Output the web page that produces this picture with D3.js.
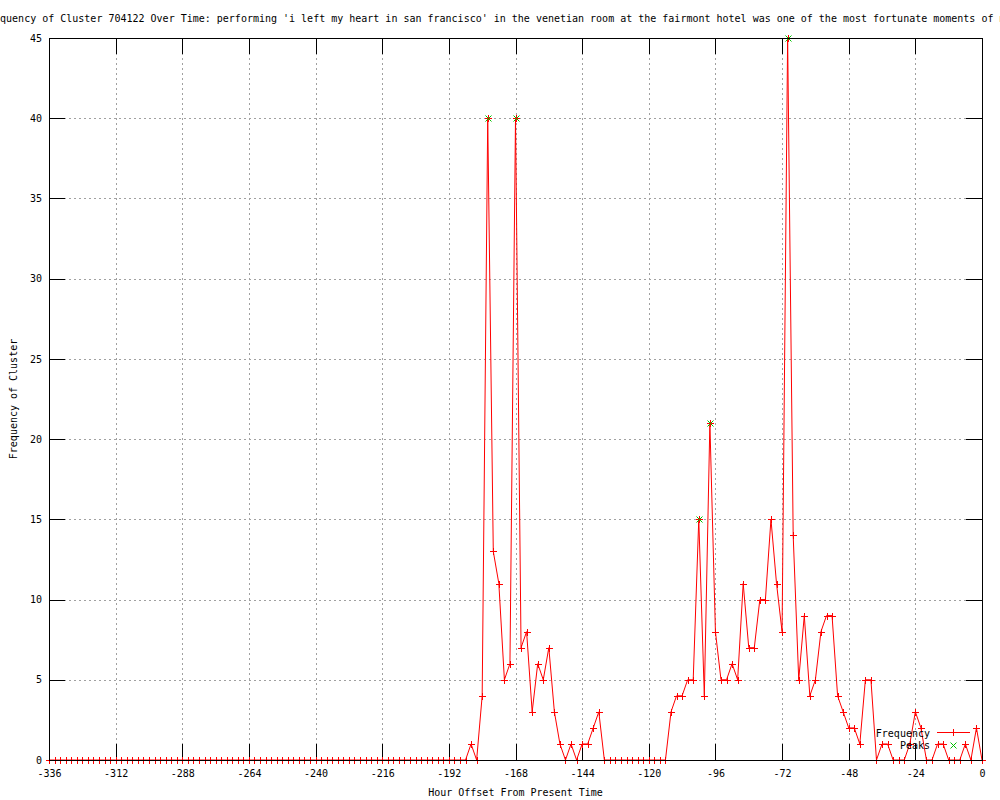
<!DOCTYPE html>
<html>
<head>
<meta charset="utf-8">
<script src="https://cdn.jsdelivr.net/npm/d3@7"></script>
<style>
  html, body { margin: 0; padding: 0; background: #fff; }
  svg { display: block; }
  text { font-family: "DejaVu Sans Mono", "Liberation Mono", monospace; font-size: 10px; fill: #000; }
</style>
</head>
<body>
<script>
// ---- data ----
const hours = [
  -336,-334,-332,-330,-328,-326,-324,-322,-320,-318,-316,-314,
  -312,-310,-308,-306,-304,-302,-300,-298,-296,-294,-292,-290,
  -288,-286,-284,-282,-280,-278,-276,-274,-272,-270,-268,-266,
  -264,-262,-260,-258,-256,-254,-252,-250,-248,-246,-244,-242,
  -240,-238,-236,-234,-232,-230,-228,-226,-224,-222,-220,-218,
  -216,-214,-212,-210,-208,-206,-204,-202,-200,-198,-196,-194,
  -192,-190,-188,-186,-184,-182,-180,-178,-176,-174,-172,-170,
  -168,-166,-164,-162,-160,-158,-156,-154,-152,-150,-148,-146,
  -144,-142,-140,-138,-136,-134,-132,-130,-128,-126,-124,-122,
  -120,-118,-116,-114,-112,-110,-108,-106,-104,-102,-100,-98,
  -96,-94,-92,-90,-88,-86,-84,-82,-80,-78,-76,-74,
  -72,-70,-68,-66,-64,-62,-60,-58,-56,-54,-52,-50,
  -48,-46,-44,-42,-40,-38,-36,-34,-32,-30,-28,-26,
  -24,-22,-20,-18,-16,-14,-12,-10,-8,-6,-4,-2,
  0
];
const frequency = [
  0,0,0,0,0,0,0,0,0,0,0,0,
  0,0,0,0,0,0,0,0,0,0,0,0,
  0,0,0,0,0,0,0,0,0,0,0,0,
  0,0,0,0,0,0,0,0,0,0,0,0,
  0,0,0,0,0,0,0,0,0,0,0,0,
  0,0,0,0,0,0,0,0,0,0,0,0,
  0,0,0,0,1,0,4,40,13,11,5,6,
  40,7,8,3,6,5,7,3,1,0,1,0,
  1,1,2,3,0,0,0,0,0,0,0,0,
  0,0,0,0,3,4,4,5,5,15,4,21,
  8,5,5,6,5,11,7,7,10,10,15,11,
  8,45,14,5,9,4,5,8,9,9,4,3,
  2,2,1,5,5,0,1,1,0,0,0,1,
  3,2,0,0,1,1,0,0,0,1,0,2,
  0
];
const peakHours = [-178, -168, -102, -98, -70];
const peakValues = [40, 40, 15, 21, 45];
const xTicks = [-336,-312,-288,-264,-240,-216,-192,-168,-144,-120,-96,-72,-48,-24,0];
const yTicks = [0,5,10,15,20,25,30,35,40,45];
const titleText = "Frequency of Cluster 704122 Over Time: performing 'i left my heart in san francisco' in the venetian room at the fairmont hotel was one of the most fortunate moments of my life";
const xLabel = "Hour Offset From Present Time";
const yLabel = "Frequency of Cluster";
const seriesNames = ["Frequency", "Peaks"];

// ---- layout ----
const W = 1000, H = 800;
const L = 49, R = 982, T = 38, B = 760;

const svg = d3.select("body").append("svg").attr("width", W).attr("height", H);

const x = d3.scaleLinear().domain([-336, 0]).range([L, R]);
const y = d3.scaleLinear().domain([0, 45]).range([B, T]);

// grid
const gridColor = "#a0a0a0";
const gx = svg.append("g").attr("transform", `translate(0,${B})`)
  .call(d3.axisBottom(x).tickValues(xTicks.slice(1, -1)).tickSize(-(B - T)).tickFormat(""));
gx.select(".domain").remove();
gx.selectAll("line").attr("stroke", gridColor).attr("stroke-dasharray", "2,3").attr("shape-rendering", "crispEdges");

const gy = svg.append("g").attr("transform", `translate(${L},0)`)
  .call(d3.axisLeft(y).tickValues(yTicks.slice(1, -1)).tickSize(-(R - L)).tickFormat(""));
gy.select(".domain").remove();
gy.selectAll("line").attr("stroke", gridColor).attr("stroke-dasharray", "2,3").attr("shape-rendering", "crispEdges");

// axes with inward ticks
const tk = 16;
const fmt = d => String(d);
const axB = svg.append("g").attr("transform", `translate(0,${B})`)
  .call(d3.axisBottom(x).tickValues(xTicks).tickSizeInner(-tk).tickSizeOuter(0).tickPadding(10).tickFormat(fmt));
const axT = svg.append("g").attr("transform", `translate(0,${T})`)
  .call(d3.axisTop(x).tickValues(xTicks).tickSizeInner(-tk).tickSizeOuter(0).tickFormat(""));
const axL = svg.append("g").attr("transform", `translate(${L},0)`)
  .call(d3.axisLeft(y).tickValues(yTicks).tickSizeInner(-tk).tickSizeOuter(0).tickPadding(7).tickFormat(fmt));
const axR = svg.append("g").attr("transform", `translate(${R},0)`)
  .call(d3.axisRight(y).tickValues(yTicks).tickSizeInner(-tk).tickSizeOuter(0).tickFormat(""));
[axB, axT, axL, axR].forEach(g => {
  g.attr("font-family", null).attr("font-size", null);
  g.selectAll("line, path").attr("stroke", "#000").attr("shape-rendering", "crispEdges");
  g.selectAll("text").attr("fill", "#000");
});

// data line
const pts = hours.map((h, i) => [h, frequency[i]]);
svg.append("path")
  .datum(pts)
  .attr("fill", "none")
  .attr("stroke", "#ff0000")
  .attr("stroke-width", 1)
  .attr("d", d3.line().x(d => x(d[0])).y(d => y(d[1])));

// plus markers
const ps = 3.5;
const plus = (cx, cy) => `M${cx - ps},${cy}H${cx + ps}M${cx},${cy - ps}V${cy + ps}`;
svg.append("g").selectAll("path").data(pts).join("path")
  .attr("d", d => plus(Math.round(x(d[0])) + 0.5, Math.round(y(d[1])) + 0.5))
  .attr("stroke", "#ff0000").attr("stroke-width", 1).attr("fill", "none");

// peak x markers
const xs = 3;
const cross = (cx, cy) => `M${cx - xs},${cy - xs}L${cx + xs},${cy + xs}M${cx - xs},${cy + xs}L${cx + xs},${cy - xs}`;
const peaks = peakHours.map((h, i) => [h, peakValues[i]]);
svg.append("g").selectAll("path").data(peaks).join("path")
  .attr("d", d => cross(Math.round(x(d[0])) + 0.5, Math.round(y(d[1])) + 0.5))
  .attr("stroke", "#00c000").attr("stroke-width", 1).attr("fill", "none");

// border
svg.append("rect").attr("x", L + 0.5).attr("y", T + 0.5).attr("width", R - L).attr("height", B - T)
  .attr("fill", "none").attr("stroke", "#000").attr("shape-rendering", "crispEdges");

// legend
const lg = svg.append("g");
lg.append("text").attr("x", 930).attr("y", 736.5).attr("text-anchor", "end").text(seriesNames[0]);
lg.append("line").attr("x1", 937).attr("x2", 970).attr("y1", 732.5).attr("y2", 732.5).attr("stroke", "#ff0000");
lg.append("path").attr("d", plus(953.5, 732.5)).attr("stroke", "#ff0000").attr("fill", "none");
lg.append("text").attr("x", 930).attr("y", 749).attr("text-anchor", "end").text(seriesNames[1]);
lg.append("path").attr("d", cross(953.5, 745.5)).attr("stroke", "#00c000").attr("fill", "none");

// titles
svg.append("text").attr("x", -18).attr("y", 22).attr("text-anchor", "start").text(titleText);
svg.append("text").attr("x", (L + R) / 2).attr("y", 796).attr("text-anchor", "middle").text(xLabel);
svg.append("text").attr("transform", `translate(17,${(T + B) / 2}) rotate(-90)`).attr("text-anchor", "middle").text(yLabel);
</script>
</body>
</html>
